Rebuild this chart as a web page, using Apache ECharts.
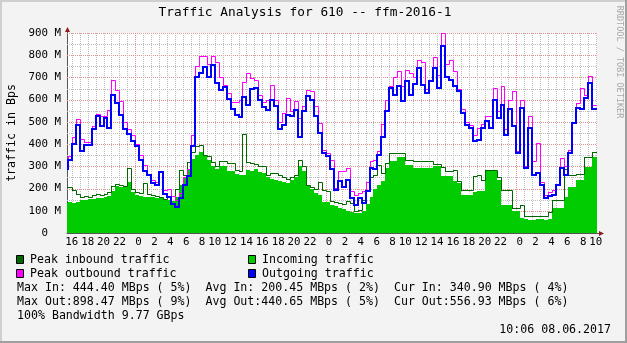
<!DOCTYPE html>
<html>
<head>
<meta charset="utf-8">
<script src="https://cdn.jsdelivr.net/npm/echarts@6/dist/echarts.min.js"></script>
<style>
  html, body { margin: 0; padding: 0; background: #f3f3f3; }
  #chart { width: 627px; height: 343px; }
</style>
</head>
<body>
<div id="chart"></div>
<script>
// 30-minute averages; time is counted in hours from midnight of the first day.
const slotStart = 15.0;
const slotHours = 0.5;
const viewStart = 15.4;
const viewEnd = 82.15;

// Incoming traffic (MBps), average per slot
const incoming = [
  135, 138, 133, 140, 148, 150, 151, 155, 156, 157,
  160, 166, 190, 210, 208, 205, 230, 186, 172, 165,
  163, 162, 160, 158, 156, 150, 148, 142, 160, 215,
  250, 290, 335, 350, 365, 345, 330, 300, 288, 300,
  300, 277, 277, 265, 262, 260, 285, 280, 290, 275,
  270, 250, 245, 240, 235, 230, 225, 240, 250, 300,
  278, 210, 200, 180, 170, 140, 140, 128, 120, 112,
  110, 100, 95, 92, 92, 100, 130, 160, 200, 215,
  232, 292, 322, 322, 340, 340, 307, 307, 292, 292,
  292, 292, 292, 300, 300, 255, 255, 255, 232, 225,
  172, 172, 172, 185, 187, 187, 277, 277, 277, 240,
  127, 127, 127, 97, 97, 67, 62, 58, 60, 63,
  61, 59, 64, 112, 112, 112, 160, 205, 205, 240,
  240, 295, 295, 340.9, 340.9
];

// Peak inbound traffic (MBps)
const peakIn = [
  205, 208, 195, 175, 160, 165, 163, 172, 175, 172,
  175, 186, 210, 222, 215, 212, 292, 200, 185, 180,
  223, 175, 170, 165, 160, 155, 160, 165, 200, 285,
  262, 320, 365, 390, 395, 352, 345, 320, 300, 322,
  322, 315, 315, 285, 280, 444.4, 320, 315, 310, 300,
  300, 260, 270, 270, 260, 250, 245, 250, 260, 328,
  300, 215, 205, 200, 231, 195, 190, 145, 140, 135,
  130, 145, 135, 100, 105, 148, 190, 250, 260, 307,
  270, 313, 360, 360, 360, 360, 330, 330, 322, 322,
  322, 322, 322, 310, 310, 298, 280, 280, 285, 232,
  195, 195, 195, 255, 262, 240, 285, 285, 285, 250,
  195, 195, 195, 112, 112, 127, 75, 75, 75, 75,
  75, 75, 95, 150, 150, 150, 290, 260, 260, 265,
  265, 340, 340, 363, 363
];

// Outgoing traffic (MBps), average per slot
const outgoing = [
  290, 330, 400, 485, 370, 395, 395, 470, 525, 480,
  517, 472, 620, 583, 530, 470, 445, 412, 390, 330,
  277, 262, 225, 217, 276, 175, 160, 130, 118, 157,
  215, 255, 390, 700, 720, 748, 700, 756, 675, 643,
  658, 605, 560, 530, 523, 613, 576, 650, 651, 598,
  568, 553, 600, 570, 470, 487, 532, 525, 555, 430,
  547, 615, 600, 525, 450, 360, 345, 290, 195, 232,
  205, 240, 157, 127, 157, 135, 190, 292, 290, 352,
  430, 547, 652, 620, 660, 592, 682, 620, 670, 742,
  667, 630, 682, 742, 652, 840, 700, 690, 660, 640,
  540, 487, 472, 412, 420, 472, 502, 472, 600, 517,
  577, 442, 560, 480, 360, 562, 292, 472, 262, 270,
  217, 157, 165, 172, 217, 292, 262, 360, 495, 562,
  560, 607, 675, 556.93, 556.93
];

// Peak outbound traffic (MBps)
const peakOut = [
  300, 345, 430, 515, 425, 410, 410, 480, 535, 525,
  527, 555, 688, 643, 595, 500, 470, 440, 400, 352,
  307, 265, 240, 230, 280, 195, 200, 165, 150, 180,
  250, 290, 440, 750, 795, 798, 760, 798, 768, 703,
  665, 630, 590, 590, 600, 681, 720, 698, 688, 619,
  590, 600, 665, 600, 500, 540, 607, 547, 592, 517,
  570, 645, 637, 570, 495, 375, 360, 330, 202, 277,
  277, 292, 187, 172, 180, 187, 230, 322, 330, 370,
  490, 600, 660, 700, 727, 660, 735, 720, 700, 780,
  770, 650, 690, 790, 712, 898.47, 760, 780, 727, 650,
  560, 500, 487, 442, 472, 490, 525, 525, 652, 547,
  660, 470, 600, 637, 370, 600, 300, 525, 322, 405,
  230, 172, 185, 195, 222, 337, 300, 375, 500, 585,
  652, 620, 705, 577, 577
];

// Hour ticks that carry a label (every two hours)
const hourLabels = [16, 18, 20, 22, 24, 26, 28, 30, 32, 34, 36, 38, 40, 42, 44, 46, 48,
  50, 52, 54, 56, 58, 60, 62, 64, 66, 68, 70, 72, 74, 76, 78, 80, 82];
// Value axis labels
const valueLabels = [0, 100, 200, 300, 400, 500, 600, 700, 800, 900];

const legendLines = [
  'Max In: 444.40 MBps ( 5%)  Avg In: 200.45 MBps ( 2%)  Cur In: 340.90 MBps ( 4%)',
  'Max Out:898.47 MBps ( 9%)  Avg Out:440.65 MBps ( 5%)  Cur Out:556.93 MBps ( 6%)',
  '100% Bandwidth 9.77 GBps'
];

const MONO = '"DejaVu Sans Mono", "Liberation Mono", monospace';
const C_IN = '#00cc00', C_PEAK_IN = '#006600', C_PEAK_OUT = '#ff00ff', C_OUT = '#0000ff';
const GRID_MINOR = '#bdbdbd', GRID_MAJOR = '#de9090';

// one item per slot: [slot start, value, slot end, next value]
function stepItems(values) {
  return values.map((v, i) => {
    const next = i + 1 < values.length ? values[i + 1] : v;
    return [slotStart + i * slotHours, v, slotStart + (i + 1) * slotHours, next];
  });
}

// snap to the pixel grid so lines stay sharp
const snap = (x, w) => (w % 2 === 1 ? Math.round(x) + 0.5 : Math.round(x));

function stepLine(color, width) {
  return function (params, api) {
    const t0 = api.value(0), v = api.value(1), t1 = api.value(2), vn = api.value(3);
    const a = api.coord([t0, v]), b = api.coord([t1, v]), c = api.coord([t1, vn]);
    return {
      type: 'polyline', silent: true,
      shape: { points: [[snap(a[0], width), snap(a[1], width)], [snap(b[0], width), snap(b[1], width)], [snap(c[0], width), snap(c[1], width)]] },
      style: { stroke: color, lineWidth: width, fill: null, lineCap: 'square', lineJoin: 'miter' }
    };
  };
}

function stepArea(color) {
  return function (params, api) {
    const t0 = api.value(0), v = api.value(1), t1 = api.value(2);
    const a = api.coord([t0, v]), b = api.coord([t1, 0]);
    const x0 = Math.round(a[0]), x1 = Math.round(b[0]);
    const y0 = Math.round(a[1]), y1 = Math.round(b[1]);
    return {
      type: 'rect', silent: true,
      shape: { x: x0, y: y0, width: x1 - x0, height: y1 - y0 },
      style: { fill: color }
    };
  };
}

// dotted background grid: [value, 0 = horizontal / 1 = vertical, major flag]
const gridDefs = [];
for (let v = 50; v <= 900; v += 50) gridDefs.push([v, 0, v % 100 ? 0 : 1]);
for (let h = Math.ceil(viewStart); h <= Math.floor(viewEnd); h++) gridDefs.push([h, 1, h % 24 ? 0 : 1]);

function renderGridLine(params, api) {
  const cs = params.coordSys;
  const v = api.value(0), vertical = api.value(1) === 1, major = api.value(2) === 1;
  let shape;
  if (vertical) {
    const x = Math.round(api.coord([v, 0])[0]) + 0.5;
    shape = { x1: x, y1: cs.y, x2: x, y2: cs.y + cs.height };
  } else {
    const y = Math.round(api.coord([viewStart, v])[1]) + 0.5;
    shape = { x1: cs.x, y1: y, x2: cs.x + cs.width, y2: y };
  }
  return {
    type: 'line', shape: shape, silent: true,
    style: { stroke: major ? GRID_MAJOR : GRID_MINOR, lineWidth: 1, lineDash: [1, 1] }
  };
}

const GL = 67, GT = 33, GW = 530, GH = 200;
const ARROW = '#8a1c1c';
const FONT_LEGEND = '11.6px ' + MONO;

function stepSeries(name, z, values, renderItem) {
  return {
    name: name, type: 'custom', z: z, clip: true, silent: true,
    renderItem: renderItem, data: stepItems(values),
    encode: { x: [0, 2], y: [1, 3] }
  };
}

const chart = echarts.init(document.getElementById('chart'), null, { renderer: 'canvas' });
chart.setOption({
  animation: false,
  backgroundColor: '#f3f3f3',
  grid: { left: GL, top: GT, width: GW, height: GH, show: true, backgroundColor: '#ffffff', borderWidth: 0 },
  xAxis: {
    type: 'value', min: viewStart, max: viewEnd,
    axisLine: { show: true, lineStyle: { color: '#555', width: 1 } },
    axisTick: { show: false },
    splitLine: { show: false },
    axisLabel: {
      customValues: hourLabels,
      margin: 4,
      color: '#000',
      fontFamily: MONO,
      fontSize: 10.8,
      formatter: v => { const h = Math.round(v) % 24; return (h < 10 ? ' ' : '') + h; }
    }
  },
  yAxis: {
    type: 'value', min: 0, max: 900, interval: 100,
    axisLine: { show: true, lineStyle: { color: '#555', width: 1 } },
    axisTick: { show: false },
    splitLine: { show: false },
    axisLabel: {
      customValues: valueLabels,
      margin: 6,
      color: '#000',
      fontFamily: MONO,
      fontSize: 10.8,
      formatter: v => v === 0 ? '  0  ' : v + ' M'
    }
  },
  series: [
    {
      name: 'grid', type: 'custom', z: 1, silent: true,
      renderItem: renderGridLine, data: gridDefs,
      encode: { x: -1, y: -1 }
    },
    stepSeries('Incoming traffic', 2, incoming, stepArea(C_IN)),
    stepSeries('Peak inbound traffic', 3, peakIn, stepLine(C_PEAK_IN, 1)),
    stepSeries('Peak outbound traffic', 4, peakOut, stepLine(C_PEAK_OUT, 1)),
    stepSeries('Outgoing traffic', 5, outgoing, stepLine(C_OUT, 2))
  ],
  graphic: [
    // frame shading
    { type: 'rect', shape: { x: 0, y: 0, width: 627, height: 2 }, style: { fill: '#cfcfcf' }, silent: true },
    { type: 'rect', shape: { x: 0, y: 0, width: 2, height: 343 }, style: { fill: '#cfcfcf' }, silent: true },
    { type: 'rect', shape: { x: 0, y: 341, width: 627, height: 2 }, style: { fill: '#9e9e9e' }, silent: true },
    { type: 'rect', shape: { x: 625, y: 0, width: 2, height: 343 }, style: { fill: '#9e9e9e' }, silent: true },
    // axis extensions and arrow heads
    { type: 'line', shape: { x1: GL + 0.5, y1: GT, x2: GL + 0.5, y2: GT - 3 }, style: { stroke: '#555', lineWidth: 1 }, silent: true },
    { type: 'polygon', shape: { points: [[GL + 0.5, GT - 6], [GL - 2, GT - 1], [GL + 3, GT - 1]] }, style: { fill: ARROW }, silent: true },
    { type: 'line', shape: { x1: GL + GW, y1: GT + GH + 0.5, x2: GL + GW + 3, y2: GT + GH + 0.5 }, style: { stroke: '#555', lineWidth: 1 }, silent: true },
    { type: 'polygon', shape: { points: [[GL + GW + 7, GT + GH + 0.5], [GL + GW + 2, GT + GH - 2], [GL + GW + 2, GT + GH + 3]] }, style: { fill: ARROW }, silent: true },
    // title
    { type: 'text', x: 305, y: 13, style: { text: 'Traffic Analysis for 610 -- ffm-2016-1', font: '12.8px ' + MONO, fill: '#000', align: 'center', verticalAlign: 'middle' }, silent: true },
    // vertical axis title
    { type: 'text', x: 12, y: 133, rotation: Math.PI / 2, style: { text: 'traffic in Bps', font: FONT_LEGEND, fill: '#000', align: 'center', verticalAlign: 'middle' }, silent: true },
    // watermark
    { type: 'text', x: 619, y: 62, rotation: -Math.PI / 2, style: { text: 'RRDTOOL / TOBI OETIKER', font: '8.5px ' + MONO, fill: '#a8a8a8', align: 'center', verticalAlign: 'middle' }, silent: true },
    // legend swatches and names
    { type: 'rect', shape: { x: 16.5, y: 255.5, width: 7, height: 8 }, style: { fill: C_PEAK_IN, stroke: '#000', lineWidth: 1 }, silent: true },
    { type: 'text', x: 30, y: 259.5, style: { text: 'Peak inbound traffic', font: FONT_LEGEND, fill: '#000', align: 'left', verticalAlign: 'middle' }, silent: true },
    { type: 'rect', shape: { x: 248.5, y: 255.5, width: 7, height: 8 }, style: { fill: C_IN, stroke: '#000', lineWidth: 1 }, silent: true },
    { type: 'text', x: 262, y: 259.5, style: { text: 'Incoming traffic', font: FONT_LEGEND, fill: '#000', align: 'left', verticalAlign: 'middle' }, silent: true },
    { type: 'rect', shape: { x: 16.5, y: 269.5, width: 7, height: 8 }, style: { fill: C_PEAK_OUT, stroke: '#000', lineWidth: 1 }, silent: true },
    { type: 'text', x: 30, y: 273.5, style: { text: 'Peak outbound traffic', font: FONT_LEGEND, fill: '#000', align: 'left', verticalAlign: 'middle' }, silent: true },
    { type: 'rect', shape: { x: 248.5, y: 269.5, width: 7, height: 8 }, style: { fill: C_OUT, stroke: '#000', lineWidth: 1 }, silent: true },
    { type: 'text', x: 262, y: 273.5, style: { text: 'Outgoing traffic', font: FONT_LEGEND, fill: '#000', align: 'left', verticalAlign: 'middle' }, silent: true },
    // statistics
    { type: 'text', x: 17, y: 287.5, style: { text: legendLines[0], font: FONT_LEGEND, fill: '#000', align: 'left', verticalAlign: 'middle' }, silent: true },
    { type: 'text', x: 17, y: 301.5, style: { text: legendLines[1], font: FONT_LEGEND, fill: '#000', align: 'left', verticalAlign: 'middle' }, silent: true },
    { type: 'text', x: 17, y: 315.5, style: { text: legendLines[2], font: FONT_LEGEND, fill: '#000', align: 'left', verticalAlign: 'middle' }, silent: true },
    { type: 'text', x: 611, y: 329.5, style: { text: '10:06 08.06.2017', font: FONT_LEGEND, fill: '#000', align: 'right', verticalAlign: 'middle' }, silent: true }
  ]
});
</script>
</body>
</html>
